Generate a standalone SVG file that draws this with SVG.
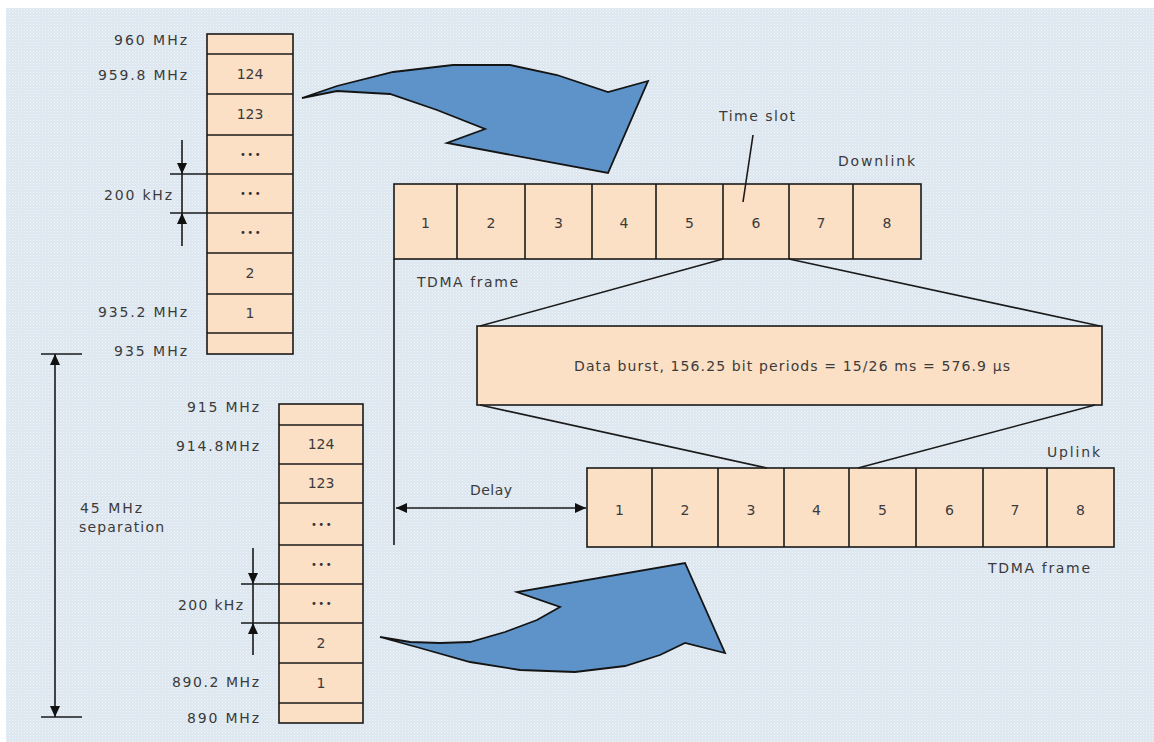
<svg xmlns="http://www.w3.org/2000/svg" width="1154" height="742" viewBox="0 0 1154 742">
<defs>
<pattern id="dither" width="3" height="3" patternUnits="userSpaceOnUse">
<rect width="3" height="3" fill="#dce6ef"/>
<rect x="0" y="0" width="1" height="1" fill="#f3f7fa"/>
<rect x="1.5" y="1.5" width="1" height="1" fill="#eef3f8"/>
</pattern>
<marker id="ah" markerUnits="userSpaceOnUse" markerWidth="12" markerHeight="11" refX="11" refY="5.5" orient="auto">
<path d="M0,0.5 L11,5.5 L0,10.5 z" fill="#111"/>
</marker>
<style>
.bx{fill:#fce0c6;stroke:#1a1a1a;stroke-width:1.6}
.ln{stroke:#1a1a1a;stroke-width:1.6;fill:none}
.t{font-family:"DejaVu Sans","Liberation Sans",sans-serif;font-size:14px;fill:#3b3b3b}
.c{text-anchor:middle}
.dots{font-family:"DejaVu Sans",sans-serif;font-size:10px;fill:#333;text-anchor:middle;letter-spacing:1.5px}
.arrow{fill:#5d93c8;stroke:#141414;stroke-width:1.8;stroke-linejoin:miter}
</style>
</defs>
<rect width="1154" height="742" fill="#ffffff"/>
<rect x="6" y="8" width="1148" height="734" fill="url(#dither)"/>

<g id="downlink-channels">
<rect class="bx" x="207" y="34" width="86" height="320"/>
<line class="ln" x1="207" y1="54" x2="293" y2="54"/>
<line class="ln" x1="207" y1="94" x2="293" y2="94"/>
<line class="ln" x1="207" y1="135" x2="293" y2="135"/>
<line class="ln" x1="207" y1="174" x2="293" y2="174"/>
<line class="ln" x1="207" y1="213" x2="293" y2="213"/>
<line class="ln" x1="207" y1="253" x2="293" y2="253"/>
<line class="ln" x1="207" y1="294" x2="293" y2="294"/>
<line class="ln" x1="207" y1="333" x2="293" y2="333"/>
<text class="t c" x="250" y="79">124</text>
<text class="t c" x="250" y="119">123</text>
<text class="dots" x="251" y="158">•••</text>
<text class="dots" x="251" y="197">•••</text>
<text class="dots" x="251" y="236">•••</text>
<text class="t c" x="250" y="278">2</text>
<text class="t c" x="250" y="318">1</text>
</g>

<g id="uplink-channels">
<rect class="bx" x="279" y="404" width="84" height="319"/>
<line class="ln" x1="279" y1="425" x2="363" y2="425"/>
<line class="ln" x1="279" y1="464" x2="363" y2="464"/>
<line class="ln" x1="279" y1="503" x2="363" y2="503"/>
<line class="ln" x1="279" y1="545" x2="363" y2="545"/>
<line class="ln" x1="279" y1="584" x2="363" y2="584"/>
<line class="ln" x1="279" y1="623" x2="363" y2="623"/>
<line class="ln" x1="279" y1="663" x2="363" y2="663"/>
<line class="ln" x1="279" y1="703" x2="363" y2="703"/>
<text class="t c" x="321" y="449">124</text>
<text class="t c" x="321" y="488">123</text>
<text class="dots" x="322" y="528">•••</text>
<text class="dots" x="322" y="568">•••</text>
<text class="dots" x="322" y="607">•••</text>
<text class="t c" x="321" y="648">2</text>
<text class="t c" x="321" y="688">1</text>
</g>

<g id="freq-labels">
<text class="t" x="114" y="45" textLength="73">960 MHz</text>
<text class="t" x="98" y="80" textLength="89">959.8 MHz</text>
<text class="t" x="104" y="200" textLength="68">200 kHz</text>
<text class="t" x="98" y="317" textLength="89">935.2 MHz</text>
<text class="t" x="114" y="356" textLength="73">935 MHz</text>
<text class="t" x="80" y="513" textLength="62">45 MHz</text>
<text class="t" x="79" y="532" textLength="85">separation</text>
<text class="t" x="187" y="412" textLength="72">915 MHz</text>
<text class="t" x="176" y="451" textLength="83">914.8MHz</text>
<text class="t" x="178" y="610" textLength="65">200 kHz</text>
<text class="t" x="172" y="687" textLength="87">890.2 MHz</text>
<text class="t" x="187" y="723" textLength="72">890 MHz</text>
</g>

<g id="downlink-frame">
<rect class="bx" x="394" y="184" width="527" height="75"/>
<line class="ln" x1="457" y1="184" x2="457" y2="259"/>
<line class="ln" x1="525" y1="184" x2="525" y2="259"/>
<line class="ln" x1="592" y1="184" x2="592" y2="259"/>
<line class="ln" x1="656" y1="184" x2="656" y2="259"/>
<line class="ln" x1="723" y1="184" x2="723" y2="259"/>
<line class="ln" x1="789" y1="184" x2="789" y2="259"/>
<line class="ln" x1="853" y1="184" x2="853" y2="259"/>
<text class="t c" x="425.5" y="228">1</text>
<text class="t c" x="491" y="228">2</text>
<text class="t c" x="558.5" y="228">3</text>
<text class="t c" x="624" y="228">4</text>
<text class="t c" x="689.5" y="228">5</text>
<text class="t c" x="756" y="228">6</text>
<text class="t c" x="821" y="228">7</text>
<text class="t c" x="887" y="228">8</text>
<text class="t" x="838" y="166" textLength="77">Downlink</text>
<text class="t" x="417" y="287" textLength="101">TDMA frame</text>
<text class="t" x="719" y="121" textLength="76">Time slot</text>
</g>

<g id="data-burst">
<rect class="bx" x="477" y="326" width="625" height="79"/>
<text class="t" x="574" y="371" textLength="436">Data burst, 156.25 bit periods = 15/26 ms = 576.9 µs</text>
</g>

<g id="uplink-frame">
<rect class="bx" x="587" y="468" width="527" height="79"/>
<line class="ln" x1="652" y1="468" x2="652" y2="547"/>
<line class="ln" x1="718" y1="468" x2="718" y2="547"/>
<line class="ln" x1="784" y1="468" x2="784" y2="547"/>
<line class="ln" x1="849" y1="468" x2="849" y2="547"/>
<line class="ln" x1="916" y1="468" x2="916" y2="547"/>
<line class="ln" x1="983" y1="468" x2="983" y2="547"/>
<line class="ln" x1="1047" y1="468" x2="1047" y2="547"/>
<text class="t c" x="619.5" y="515">1</text>
<text class="t c" x="685" y="515">2</text>
<text class="t c" x="751" y="515">3</text>
<text class="t c" x="816.5" y="515">4</text>
<text class="t c" x="882.5" y="515">5</text>
<text class="t c" x="949.5" y="515">6</text>
<text class="t c" x="1015" y="515">7</text>
<text class="t c" x="1080.5" y="515">8</text>
<text class="t" x="1047" y="457" textLength="53">Uplink</text>
<text class="t" x="988" y="573" textLength="102">TDMA frame</text>
<text class="t" x="470" y="495" textLength="42">Delay</text>
</g>

<g id="big-arrows">
<path class="arrow" d="M302,98 L337,86 L393,72 L453,65 L510,65 L557,75 L608,92 L648,81 L608,173 L447,143 L485,129 L437,110 L390,94 L337,91 Z"/>
<path class="arrow" d="M380,637 L410,642 L440,643 L470,642 L505,632 L537,620 L560,607 L517,592 L685,563 L725,653 L685,643 L660,655 L625,666 L575,672 L520,670 L470,662 L420,648 Z"/>
</g>

<g id="connectors">
<line class="ln" x1="753" y1="135" x2="743" y2="202"/>
<line class="ln" x1="723" y1="259" x2="480" y2="326"/>
<line class="ln" x1="789" y1="259" x2="1100" y2="326"/>
<line class="ln" x1="480" y1="405" x2="767" y2="468"/>
<line class="ln" x1="1095" y1="405" x2="858" y2="468"/>
<line class="ln" x1="394" y1="259" x2="394" y2="545"/>
<line class="ln" x1="490" y1="508" x2="396" y2="508" marker-end="url(#ah)"/>
<line class="ln" x1="490" y1="508" x2="586" y2="508" marker-end="url(#ah)"/>
<line class="ln" x1="170" y1="174" x2="207" y2="174"/>
<line class="ln" x1="170" y1="213" x2="207" y2="213"/>
<line class="ln" x1="182" y1="140" x2="182" y2="174" marker-end="url(#ah)"/>
<line class="ln" x1="182" y1="174" x2="182" y2="213"/>
<line class="ln" x1="182" y1="246" x2="182" y2="213" marker-end="url(#ah)"/>
<line class="ln" x1="241" y1="584" x2="279" y2="584"/>
<line class="ln" x1="241" y1="623" x2="279" y2="623"/>
<line class="ln" x1="253" y1="548" x2="253" y2="584" marker-end="url(#ah)"/>
<line class="ln" x1="253" y1="584" x2="253" y2="623"/>
<line class="ln" x1="253" y1="655" x2="253" y2="623" marker-end="url(#ah)"/>
<line class="ln" x1="41" y1="354" x2="82" y2="354"/>
<line class="ln" x1="41" y1="717" x2="82" y2="717"/>
<line class="ln" x1="55" y1="530" x2="55" y2="354" marker-end="url(#ah)"/>
<line class="ln" x1="55" y1="530" x2="55" y2="717" marker-end="url(#ah)"/>
</g>
</svg>
